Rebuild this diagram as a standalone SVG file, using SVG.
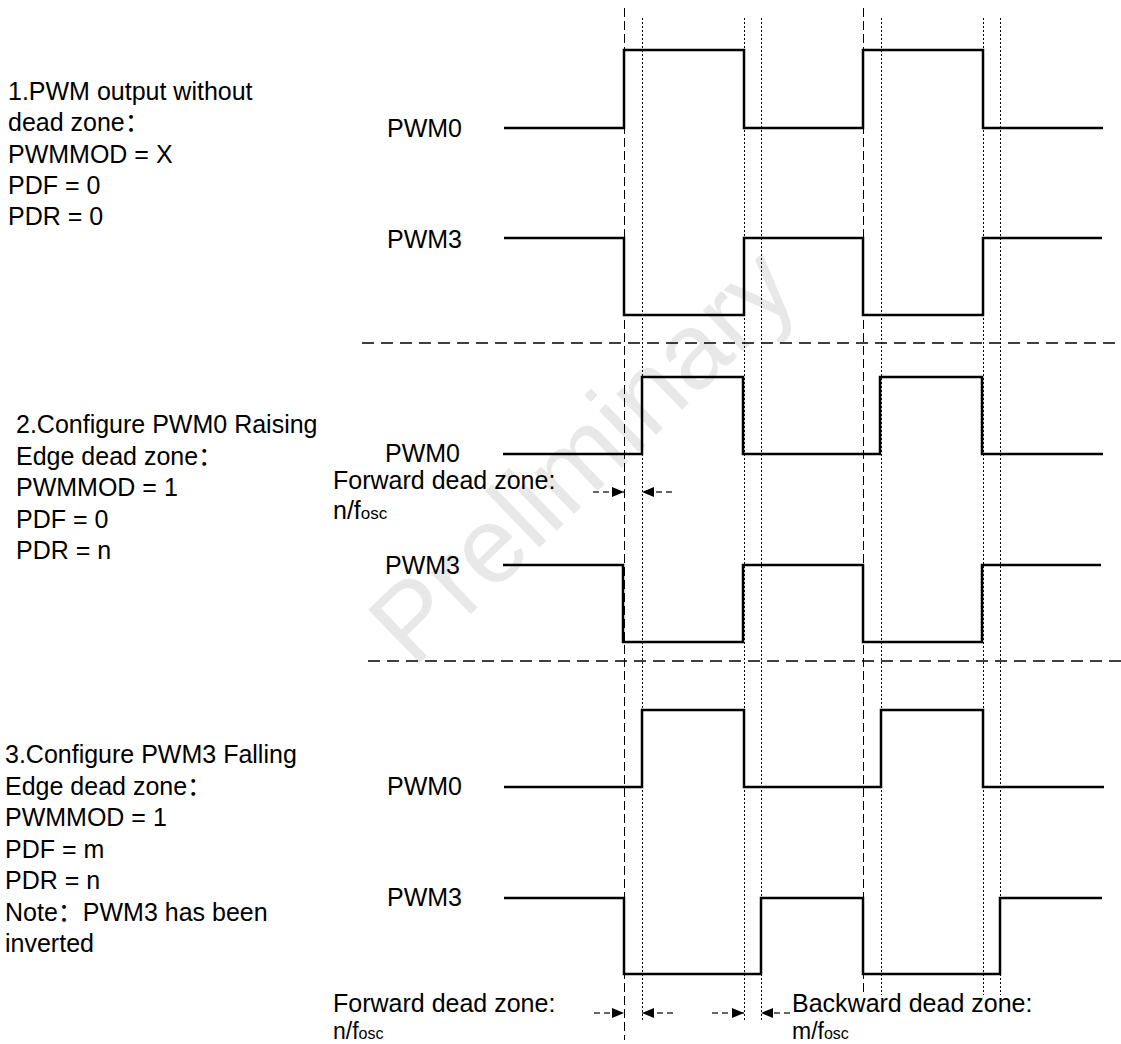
<svg xmlns="http://www.w3.org/2000/svg" width="1121" height="1044" viewBox="0 0 1121 1044">
<style>
  text { font-family: "Liberation Sans", Arial, "Noto Sans CJK SC", sans-serif; font-size: 25px; fill: #000; }
  .sub { font-size: 17px; }
  .small { font-size: 23px; }
  .small .sub { font-size: 16px; }
  .wave { fill: none; stroke: #000; stroke-width: 2.5; stroke-linejoin: miter; }
  .vdash { stroke: #000; stroke-width: 1; stroke-dasharray: 9 4; }
  .vdot { stroke: #000; stroke-width: 1; stroke-dasharray: 2 2; }
  .hsep { stroke: #000; stroke-width: 1.5; stroke-dasharray: 12 7; }
  .arr { stroke: #333; stroke-width: 1.5; stroke-dasharray: 6 4; marker-end: url(#ah); }
  .wm { font-size: 108px; fill: #e8e8e8; }
</style>
<defs>
  <marker id="ah" markerUnits="userSpaceOnUse" markerWidth="12" markerHeight="10" refX="12" refY="5" orient="auto">
    <path d="M0,0 L12,5 L0,10 z" fill="#000"/>
  </marker>
</defs>
<rect width="1121" height="1044" fill="#fff"/>

<g id="watermark" transform="translate(582,455) rotate(-44)">
  <text class="wm" x="0" y="37" text-anchor="middle">Preliminary</text>
</g>

<g id="guides">
  <line class="vdash" x1="624.5" y1="8" x2="624.5" y2="1040"/>
  <line class="vdot" x1="642.5" y1="18" x2="642.5" y2="1022"/>
  <line class="vdot" x1="744.5" y1="18" x2="744.5" y2="1022"/>
  <line class="vdot" x1="761.5" y1="18" x2="761.5" y2="1022"/>
  <line class="vdash" x1="863.5" y1="8" x2="863.5" y2="995"/>
  <line class="vdot" x1="881.5" y1="18" x2="881.5" y2="995"/>
  <line class="vdot" x1="983.5" y1="18" x2="983.5" y2="995"/>
  <line class="vdot" x1="1000.5" y1="18" x2="1000.5" y2="995"/>
  <line class="hsep" x1="362" y1="343" x2="1121" y2="343"/>
  <line class="hsep" x1="368" y1="661" x2="1121" y2="661"/>
</g>

<g id="section1">
  <text x="8" y="100">1.PWM output without</text>
  <text x="8" y="131">dead zone：</text>
  <text x="8" y="163">PWMMOD = X</text>
  <text x="8" y="194">PDF = 0</text>
  <text x="8" y="225">PDR = 0</text>
  <text x="387" y="137">PWM0</text>
  <text x="387" y="248">PWM3</text>
  <path class="wave" d="M504,128 H624 V50 H744 V128 H863 V50 H983 V128 H1103"/>
  <path class="wave" d="M504,238 H624 V315 H744 V238 H863 V315 H983 V238 H1102"/>
</g>

<g id="section2">
  <text x="16" y="433">2.Configure PWM0 Raising</text>
  <text x="16" y="465">Edge dead zone：</text>
  <text x="16" y="496">PWMMOD = 1</text>
  <text x="16" y="528">PDF = 0</text>
  <text x="16" y="559">PDR = n</text>
  <text x="385" y="462">PWM0</text>
  <text x="385" y="574">PWM3</text>
  <text x="333" y="489">Forward dead zone:</text>
  <text x="333" y="519">n/f<tspan class="sub">osc</tspan></text>
  <path class="wave" d="M503,454 H642 V377 H743 V454 H880 V377 H982 V454 H1103"/>
  <path class="wave" d="M503,565 H623 V642 H743 V565 H863 V642 H982 V565 H1101"/>
</g>

<g id="section3">
  <text x="5" y="763">3.Configure PWM3 Falling</text>
  <text x="5" y="795">Edge dead zone：</text>
  <text x="5" y="826">PWMMOD = 1</text>
  <text x="5" y="858">PDF = m</text>
  <text x="5" y="889">PDR = n</text>
  <text x="5" y="921">Note：PWM3 has been</text>
  <text x="5" y="952">inverted</text>
  <text x="387" y="795">PWM0</text>
  <text x="387" y="906">PWM3</text>
  <text x="333" y="1012">Forward dead zone:</text>
  <text class="small" x="333" y="1039">n/f<tspan class="sub">osc</tspan></text>
  <text x="792" y="1012">Backward dead zone:</text>
  <text class="small" x="792" y="1039">m/f<tspan class="sub">osc</tspan></text>
  <path class="wave" d="M504,787 H642 V710 H744 V787 H881 V710 H983 V787 H1104"/>
  <path class="wave" d="M504,898 H624 V974 H761 V898 H863 V974 H1000 V898 H1102"/>
</g>

<g id="connectors">
  <line class="arr" x1="593" y1="492" x2="624" y2="492"/>
  <line class="arr" x1="672" y1="492" x2="642" y2="492"/>
  <line class="arr" x1="594" y1="1013" x2="624" y2="1013"/>
  <line class="arr" x1="673" y1="1013" x2="642" y2="1013"/>
  <line class="arr" x1="712" y1="1013" x2="744" y2="1013"/>
  <line class="arr" x1="790" y1="1013" x2="761" y2="1013"/>
</g>
</svg>
